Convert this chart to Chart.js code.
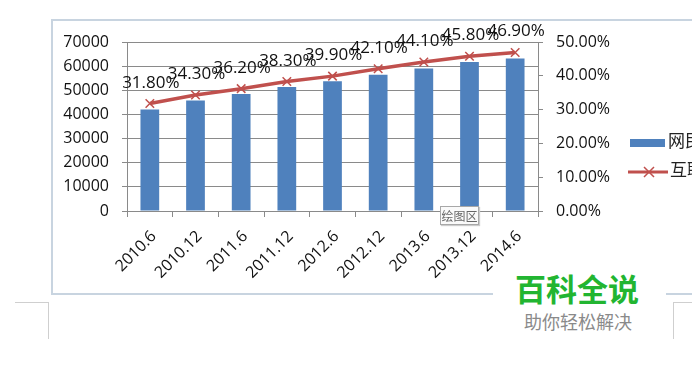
<!DOCTYPE html>
<html>
<head>
<meta charset="utf-8">
<script src="https://cdn.jsdelivr.net/npm/chart.js@4/dist/chart.umd.min.js"></script>
<style>
  body { margin: 0; background: #fff; overflow: hidden; }
  #wrap { position: relative; width: 692px; height: 366px; overflow: hidden; }
  #grafico { position: absolute; left: 0; top: 0; }
  .frame { position: absolute; left: 51px; top: 19px; width: 700px; height: 272px; border: 2px solid #c8d4e0; border-right: none; }
  .cell1 { position: absolute; left: 15px; top: 302px; width: 33px; height: 36px; border-top: 1px solid #cfcfcf; border-right: 1px solid #cfcfcf; }
  .cell2 { position: absolute; left: 673px; top: 302px; width: 30px; height: 36px; border-top: 1px solid #cfcfcf; border-left: 1px solid #cfcfcf; }
  .tip { position: absolute; left: 440px; top: 206px; width: 37px; height: 17px; border: 1px solid #a8a8a8; background: #fafafa;
         font: 12px "Noto Sans CJK SC"; color: #666; line-height: 17px; text-align: center; box-shadow: 1px 1px 1px #ccc; }
  .mark { position: absolute; left: 493px; top: 262px; width: 173px; height: 82px; background: #fff; }
  .mark1 { position: absolute; left: 515px; top: 266px; font: bold 31px "Noto Sans CJK SC"; color: #22b531; line-height: 44px; }
  .mark2 { position: absolute; left: 524px; top: 308px; font: 18px "Noto Sans CJK SC"; color: #8a8a8a; line-height: 26px; }
</style>
</head>
<body>
<div id="wrap">
  <div class="frame"></div>
  <div class="cell1"></div>
  <div class="cell2"></div>
  <canvas id="grafico" width="692" height="366"></canvas>
  <div class="tip">绘图区</div>
  <div class="mark"></div>
  <div class="mark1">百科全说</div>
  <div class="mark2">助你轻松解决</div>
</div>
<script>
const labels = ["2010.6", "2010.12", "2011.6", "2011.12", "2012.6", "2012.12", "2013.6", "2013.12", "2014.6"];
const netizens = [42000, 45730, 48500, 51310, 53760, 56400, 59056, 61758, 63200];
const penetration = [31.8, 34.3, 36.2, 38.3, 39.9, 42.1, 44.1, 45.8, 46.9];
const seriesNames = ["网民规模", "互联网普及率"];

const blue = "#4f81bd";
const red = "#c0504d";
const gridColor = "#8a8a8a";
const tickFont = { family: "'Open Sans'", size: 16 };

// etiquetas de porcentaje encima de la linea
const dataLabels = {
  id: "dataLabels",
  afterDatasetsDraw(chart) {
    const ctx = chart.ctx;
    const meta = chart.getDatasetMeta(1);
    ctx.save();
    ctx.font = "17px 'Open Sans'";
    ctx.fillStyle = "#111";
    ctx.textAlign = "center";
    ctx.textBaseline = "alphabetic";
    meta.data.forEach((pt, i) => {
      ctx.fillText(penetration[i].toFixed(2) + "%", pt.x + 1, pt.y - 16);
    });
    ctx.restore();
  },
};

// leyenda a la derecha (queda cortada por el borde, como en la captura)
const sideLegend = {
  id: "sideLegend",
  afterDraw(chart) {
    const ctx = chart.ctx;
    const x0 = chart.chartArea.right + 92;
    ctx.save();
    ctx.fillStyle = blue;
    ctx.fillRect(x0, 139, 35, 8);
    ctx.strokeStyle = red;
    ctx.lineWidth = 3;
    ctx.beginPath();
    ctx.moveTo(x0 - 2, 172);
    ctx.lineTo(x0 + 38, 172);
    ctx.stroke();
    ctx.lineWidth = 1.5;
    ctx.beginPath();
    ctx.moveTo(x0 + 14, 167); ctx.lineTo(x0 + 24, 177);
    ctx.moveTo(x0 + 24, 167); ctx.lineTo(x0 + 14, 177);
    ctx.stroke();
    ctx.fillStyle = "#222";
    ctx.font = "17px 'Noto Sans CJK SC'";
    ctx.textBaseline = "middle";
    ctx.fillText(seriesNames[0], x0 + 38, 141);
    ctx.fillText(seriesNames[1], x0 + 40, 170);
    ctx.restore();
  },
};

const grafico = document.querySelector("#grafico");

const mi_grafico = new Chart(grafico, {
  type: "bar",
  data: {
    labels: labels,
    datasets: [
      {
        type: "bar",
        label: seriesNames[0],
        data: netizens,
        backgroundColor: blue,
        barPercentage: 0.41,
        categoryPercentage: 1,
        yAxisID: "y",
        order: 2,
      },
      {
        type: "line",
        label: seriesNames[1],
        data: penetration,
        borderColor: red,
        borderWidth: 3.5,
        pointStyle: "crossRot",
        pointRadius: 6,
        pointBorderWidth: 1.5,
        pointBorderColor: red,
        tension: 0,
        yAxisID: "y1",
        order: 1,
      },
    ],
  },
  options: {
    responsive: false,
    animation: false,
    layout: { padding: { left: 53, top: 42, right: 0, bottom: 0 } },
    plugins: { legend: { display: false }, tooltip: { enabled: false } },
    scales: {
      x: {
        offset: true,
        grid: { display: true, drawOnChartArea: false, offset: true, color: gridColor, tickLength: 6 },
        border: { color: gridColor },
        ticks: {
          font: { family: "'Open Sans'", size: 16 },
          color: "#111",
          minRotation: 45,
          maxRotation: 45,
          autoSkip: false,
          labelOffset: 4,
          padding: 10,
        },
        afterFit: (scale) => { scale.height = 155; },
      },
      y: {
        position: "left",
        min: 0,
        max: 70000,
        ticks: { stepSize: 10000, font: tickFont, color: "#111", padding: 13, callback: (v) => String(v) },
        grid: { color: gridColor, tickLength: 5 },
        border: { color: gridColor },
        afterFit: (scale) => { scale.width = 74; },
      },
      y1: {
        position: "right",
        min: 0,
        max: 50,
        ticks: {
          stepSize: 10,
          font: tickFont,
          color: "#111",
          padding: 13,
          callback: (v) => v.toFixed(2) + "%",
        },
        grid: { drawOnChartArea: false, color: gridColor, tickLength: 5 },
        border: { color: gridColor },
        afterFit: (scale) => { scale.width = 154; },
      },
    },
  },
  plugins: [dataLabels, sideLegend],
});
</script>
</body>
</html>
